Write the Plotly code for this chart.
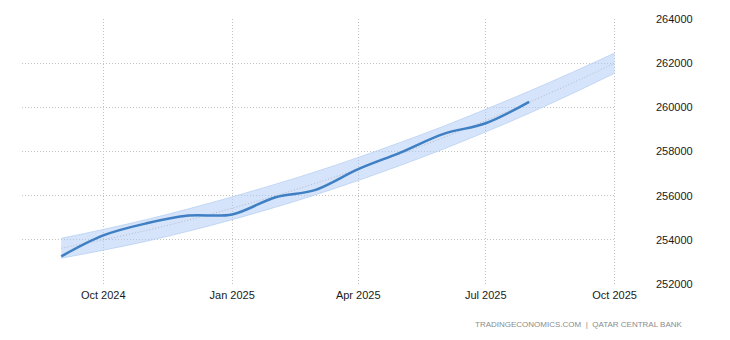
import plotly.graph_objects as go

# Monthly observations
dates = ["2024-09-01", "2024-10-01", "2024-11-01", "2024-12-01", "2025-01-01",
         "2025-02-01", "2025-03-01", "2025-04-01", "2025-05-01", "2025-06-01",
         "2025-07-01", "2025-08-01"]
values = [253250, 254200, 254750, 255100, 255150, 255930, 256250, 257200,
          257950, 258800, 259280, 260250]

# Forecast band (trend with upper/lower bounds)
band_dates = ["2024-09-01", "2024-10-01", "2024-11-01", "2024-12-01", "2025-01-01",
              "2025-02-01", "2025-03-01", "2025-04-01", "2025-05-01", "2025-06-01",
              "2025-07-01", "2025-08-01", "2025-09-01", "2025-10-01"]
trend = [253620, 254000, 254430, 254900, 255430, 256000, 256550, 257210,
         257890, 258630, 259400, 260230, 261110, 262000]
upper = [254070, 254470, 254920, 255405, 255945, 256520, 257070, 257730,
         258410, 259145, 259910, 260730, 261590, 262455]
lower = [253170, 253530, 253940, 254395, 254915, 255480, 256030, 256690,
         257370, 258115, 258890, 259730, 260630, 261545]

tick_dates = ["2024-10-01", "2025-01-01", "2025-04-01", "2025-07-01", "2025-10-01"]
tick_labels = ["Oct 2024", "Jan 2025", "Apr 2025", "Jul 2025", "Oct 2025"]
y_ticks = [252000, 254000, 256000, 258000, 260000, 262000, 264000]

font = "Liberation Sans, Arial, sans-serif"
grid = dict(showgrid=True, gridcolor="#c2c2c2", griddash="1px,2px", gridwidth=1,
            zeroline=False, showline=False, ticks="")

fig = go.Figure()
fig.add_trace(go.Scatter(x=band_dates, y=upper, mode="lines",
                         line=dict(color="#b9d0f3", width=0.8, shape="spline"),
                         hoverinfo="skip", showlegend=False))
fig.add_trace(go.Scatter(x=band_dates, y=lower, mode="lines", fill="tonexty",
                         fillcolor="rgba(172,202,245,0.5)",
                         line=dict(color="#b9d0f3", width=0.8, shape="spline"),
                         hoverinfo="skip", showlegend=False))
fig.add_trace(go.Scatter(x=band_dates, y=trend, mode="lines",
                         line=dict(color="#b8b8c8", width=1, dash="1px,2px", shape="spline"),
                         hoverinfo="skip", showlegend=False))
fig.add_trace(go.Scatter(x=dates, y=values, mode="lines",
                         line=dict(color="#3f7fc3", width=2.5, shape="spline", smoothing=1),
                         showlegend=False))

fig.update_layout(
    width=730, height=340,
    margin=dict(l=22, r=114, t=19, b=56),
    paper_bgcolor="white", plot_bgcolor="white",
    font=dict(family=font, size=11, color="#1a1a1a"),
    hovermode=False,
    xaxis=dict(
        type="date", range=["2024-08-04", "2025-10-02"],
        tickvals=tick_dates, ticktext=tick_labels, ticklabelstandoff=3,
        **grid,
    ),
    yaxis=dict(
        side="right", range=[252000, 264000], tickvals=y_ticks,
        tickformat="d", ticklabelstandoff=39,
        **grid,
    ),
    annotations=[dict(
        text="TRADINGECONOMICS.COM  |  QATAR CENTRAL BANK",
        xref="paper", yref="paper", x=1.116, y=-0.151,
        xanchor="right", yanchor="middle", showarrow=False,
        font=dict(family=font, size=8, color="#8c8c8c"),
    )],
)

fig.write_html("out.html")
